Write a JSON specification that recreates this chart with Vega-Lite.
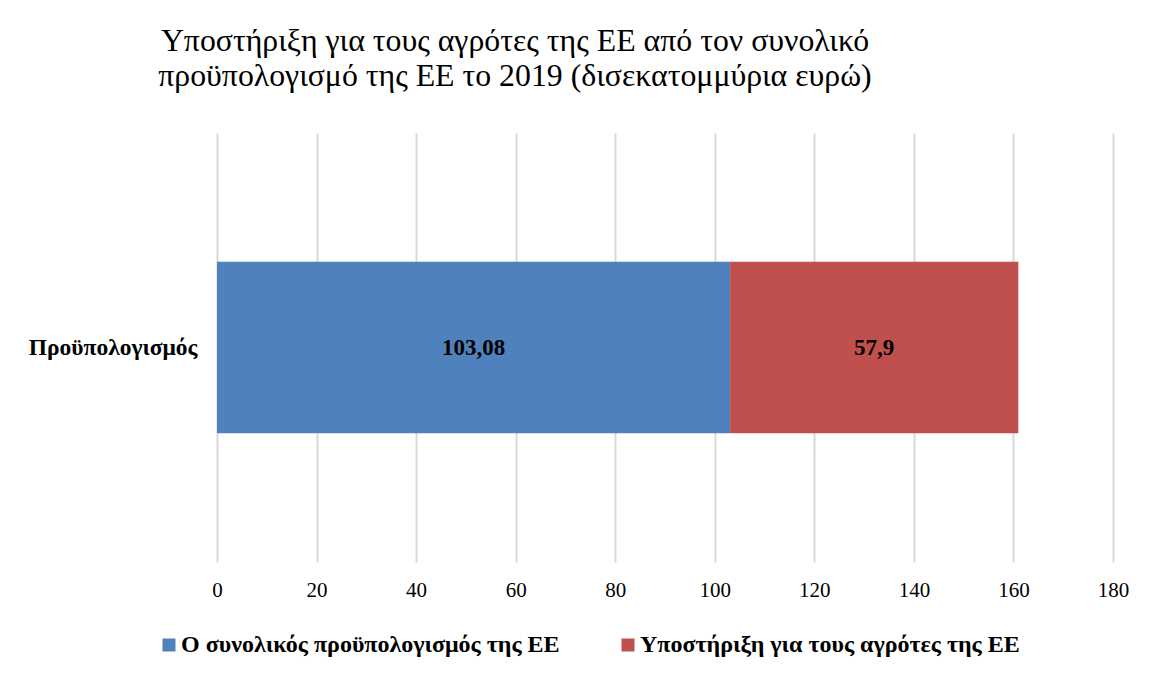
{
  "$schema": "https://vega.github.io/schema/vega-lite/v6.json",
  "autosize": "none",
  "width": 896,
  "height": 429,
  "padding": {"left": 217, "top": 133, "right": 45, "bottom": 113},
  "background": "white",
  "config": {
    "font": "Liberation Serif",
    "view": {"stroke": null}
  },
  "title": {
    "text": ["Υποστήριξη για τους αγρότες της ΕΕ από τον συνολικό", "προϋπολογισμό της ΕΕ το 2019 (δισεκατομμύρια ευρώ)"],
    "font": "Liberation Serif",
    "fontSize": 31.8,
    "fontWeight": "normal",
    "color": "#000000",
    "anchor": "middle",
    "dx": -150,
    "lineHeight": 35,
    "offset": 40
  },
  "data": {
    "values": [
      {"category": "Προϋπολογισμός", "series": "Ο συνολικός προϋπολογισμός της ΕΕ", "order": 1, "value": 103.08, "label": "103,08"},
      {"category": "Προϋπολογισμός", "series": "Υποστήριξη για τους αγρότες της ΕΕ", "order": 2, "value": 57.9, "label": "57,9"}
    ]
  },
  "transform": [
    {"stack": "value", "groupby": ["category"], "sort": [{"field": "order"}], "as": ["x0", "x1"]}
  ],
  "encoding": {
    "y": {
      "field": "category",
      "type": "nominal",
      "title": null,
      "scale": {"paddingInner": 0.6, "paddingOuter": 0.3},
      "axis": {
        "domain": false,
        "ticks": false,
        "labelFont": "Liberation Serif",
        "labelFontSize": 23.5,
        "labelFontWeight": "bold",
        "labelColor": "#000000",
        "labelPadding": 20,
        "labelLimit": 300
      }
    }
  },
  "layer": [
    {
      "mark": {"type": "bar"},
      "encoding": {
        "x": {
          "field": "x0",
          "type": "quantitative",
          "title": null,
          "scale": {"domain": [0, 180], "nice": false},
          "axis": {
            "values": [0, 20, 40, 60, 80, 100, 120, 140, 160, 180],
            "domain": false,
            "ticks": false,
            "grid": true,
            "gridColor": "#d9d9d9",
            "gridWidth": 2,
            "labelFont": "Liberation Serif",
            "labelFontSize": 21,
            "labelColor": "#000000",
            "labelPadding": 17,
            "labelFlush": false
          }
        },
        "x2": {"field": "x1"},
        "color": {
          "field": "series",
          "type": "nominal",
          "sort": ["Ο συνολικός προϋπολογισμός της ΕΕ", "Υποστήριξη για τους αγρότες της ΕΕ"],
          "scale": {"range": ["#4f81bd", "#c0504d"]},
          "legend": {
            "title": null,
            "orient": "none",
            "direction": "horizontal",
            "legendX": -60,
            "legendY": 500,
            "symbolType": "square",
            "symbolSize": 169,
            "symbolStrokeWidth": 0,
            "labelFont": "Liberation Serif",
            "labelFontSize": 24,
            "labelFontWeight": "bold",
            "labelColor": "#000000",
            "labelOffset": 0,
            "columnPadding": 56,
            "labelLimit": 500
          }
        }
      }
    },
    {
      "transform": [
        {"fold": ["x0", "x1"], "as": ["edge", "pos"]},
        {"aggregate": [{"op": "mean", "field": "pos", "as": "mid"}], "groupby": ["category", "series", "label"]}
      ],
      "mark": {"type": "text", "font": "Liberation Serif", "fontSize": 23, "fontWeight": "bold", "color": "#000000", "baseline": "middle", "align": "center"},
      "encoding": {
        "x": {"field": "mid", "type": "quantitative"},
        "text": {"field": "label"}
      }
    }
  ]
}
